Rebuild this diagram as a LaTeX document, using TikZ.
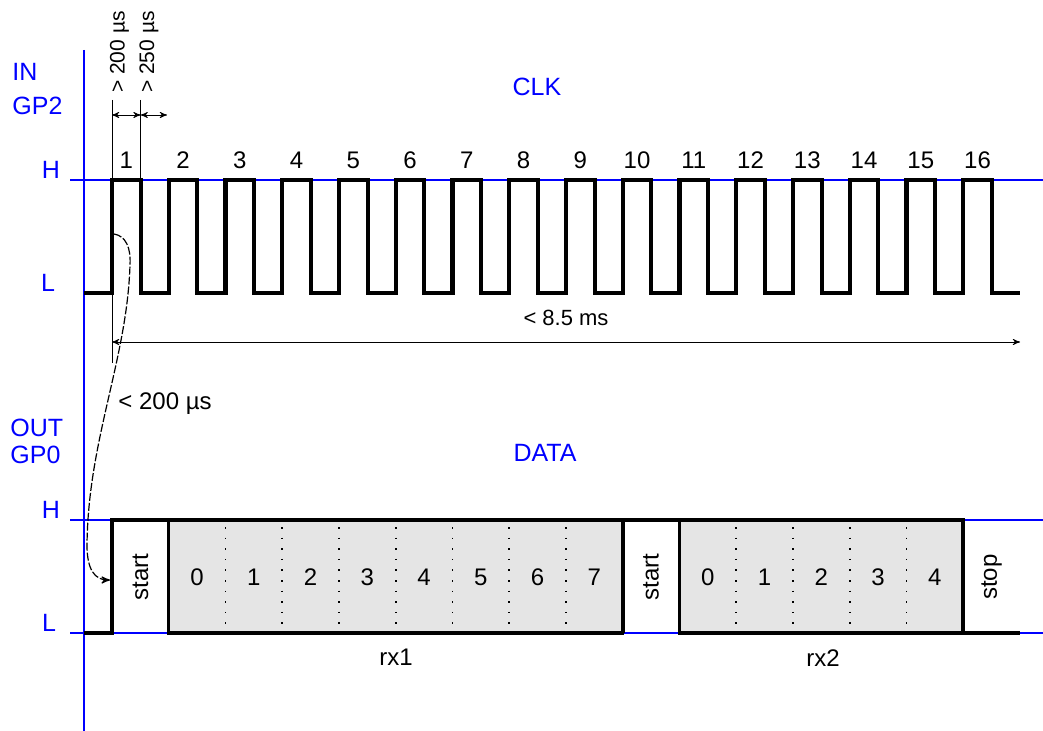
\documentclass[tikz,border=0pt]{standalone}
\usepackage{fontspec}
\setmainfont{Liberation Sans}
\usetikzlibrary{arrows}

\begin{document}
\begin{tikzpicture}[x=0.5pt, y=-0.5pt, >=stealth', axis/.style = {blue, line width=0.8pt}, sig/.style = {line width=2.1pt, line join=miter}, bitbox/.style = {draw, fill=gray!20, line width=1.6pt}, sep/.style = {line width=0.9pt, dash pattern=on 0.8pt off 4.5pt}, lbl/.style = {blue, inner sep=0pt, font=\fontsize{12.5}{14}\selectfont}, txt/.style = {inner sep=0pt, font=\fontsize{12}{14}\selectfont}, tiny/.style = {inner sep=0pt, font=\fontsize{10.5}{12}\selectfont}, dim/.style = {<->, line width=0.4pt}]
\useasboundingbox (0,0) rectangle (1043,731);
\draw[axis] (84,50) -- (84,731);
\draw[axis] (70,180) -- (1043,180);
\draw[axis] (70,520) -- (1043,520);
\draw[axis] (70,633) -- (1043,633);
\node[lbl, anchor=west] (in) at (12,72) {IN};
\node[lbl, anchor=west] (gp2) at (12,106) {GP2};
\node[lbl] (hc) at (51,170) {H};
\node[lbl] (lc) at (48,283) {L};
\node[lbl] (clk) at (537,87) {CLK};
\node[lbl, anchor=west] (out) at (10,428) {OUT};
\node[lbl, anchor=west] (gp0) at (10,455) {GP0};
\node[lbl] (hd) at (51,510) {H};
\node[lbl] (ld) at (49,623) {L};
\node[lbl] (data) at (545,453) {DATA};
\draw[sig] (84,293) \foreach \k in {0,...,15} { -- ({112+\k*56.75},293) -- ({112+\k*56.75},180) -- ({140.6+\k*56.75},180) -- ({140.6+\k*56.75},293) } -- (1020,293);
\foreach \k in {1,...,16} \node[txt] (p\k) at ({126.3+(\k-1)*56.75},160) {\k};
\coordinate (t0) at (112,100);
\coordinate (t1) at (140.6,100);
\draw[line width=0.5pt] (t0) -- (112,363);
\draw[line width=0.5pt] (t1) -- (140.6,180);
\coordinate (d0) at (112,115);
\coordinate (d1) at (140.6,115);
\coordinate (d2) at (167,115);
\draw[dim] (d0) -- (d1);
\draw[dim] (d1) -- (d2);
\node[tiny, rotate=90] (w1) at (119.5,52) {> 200 µs};
\node[tiny, rotate=90] (w2) at (149,52) {> 250 µs};
\coordinate (s0) at (112,342);
\coordinate (s1) at (1020,342);
\draw[dim] (s0) -- node[tiny, above=8pt, font=\fontsize{11}{13}\selectfont] (span) {< 8.5 ms} (s1);
\draw[sig] (84,633) -- (112,633) -- (112,520) -- (168.75,520);
\draw[bitbox] (168.75,520) rectangle (622.75,633);
\draw[sig] (622.75,633) -- (622.75,520) -- (679.5,520);
\draw[bitbox] (679.5,520) rectangle (963.25,633);
\draw[sig] (963.25,520) -- (963.25,633) -- (1020,633);
\foreach \k in {1,...,7} \draw[sep] ({168.75+\k*56.75},527) -- ++(0,102);
\foreach \k in {1,...,4} \draw[sep] ({679.5+\k*56.75},527) -- ++(0,102);
\foreach \k in {0,...,7} \node[txt] (a\k) at ({168.75+(\k+0.5)*56.75},577) {\k};
\foreach \k in {0,...,4} \node[txt] (b\k) at ({679.5+(\k+0.5)*56.75},577) {\k};
\node[txt, rotate=90] (st1) at (140.4,577) {start};
\node[txt, rotate=90] (st2) at (651,577) {start};
\node[txt, rotate=90] (sp) at (991.6,577) {stop};
\node[txt] (rx1) at (396,657) {rx1};
\node[txt] (rx2) at (823,658) {rx2};
\coordinate (c0) at (114,234);
\coordinate (c1) at (110,580);
\draw[->, line width=0.6pt, dash pattern=on 4pt off 1pt] (c0) .. controls (126,236) and (131,248) .. (130,265) .. controls (127,360) and (88,440) .. (87,545) .. controls (87,570) and (95,580) .. (c1);
\node[txt, anchor=west] (lat) at (118,404) {< 200 µs};
\end{tikzpicture}
\end{document}
